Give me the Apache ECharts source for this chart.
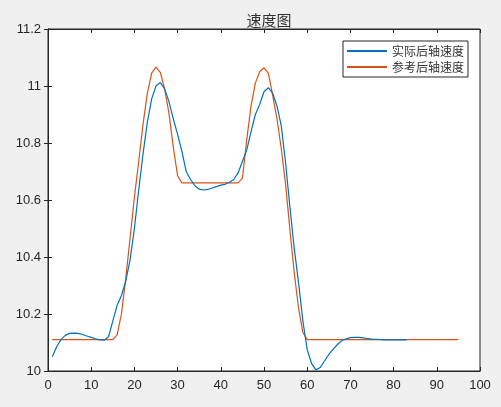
<!DOCTYPE html>
<html>
<head>
<meta charset="utf-8">
<script src="https://cdn.jsdelivr.net/npm/echarts@6/dist/echarts.min.js"></script>
<style>
html,body{margin:0;padding:0;background:#f0f0f0;}
#c{width:501px;height:407px;}
</style>
</head>
<body>
<div id="c"></div>
<script>
const titleText = '速度图';
const seriesNames = ['实际后轴速度', '参考后轴速度'];
const xTicks = [0, 10, 20, 30, 40, 50, 60, 70, 80, 90, 100];
const yTicks = [10, 10.2, 10.4, 10.6, 10.8, 11, 11.2];

// actual (blue), x = 1..83
const actualX = [];
for (let i = 1; i <= 83; i++) actualX.push(i);
const actualY = [
  10.05, 10.085, 10.11, 10.125, 10.132, 10.133, 10.132, 10.128, 10.123, 10.118,
  10.113, 10.109, 10.108, 10.12, 10.175, 10.23, 10.265, 10.315, 10.39, 10.50,
  10.635, 10.762, 10.873, 10.955, 11.0, 11.012, 10.99, 10.945, 10.885, 10.83,
  10.77, 10.70, 10.672, 10.65, 10.638, 10.635, 10.637, 10.642, 10.647, 10.652,
  10.655, 10.662, 10.672, 10.695, 10.735, 10.775, 10.84, 10.9, 10.935, 10.98,
  10.994, 10.975, 10.93, 10.86, 10.73, 10.575, 10.43, 10.31, 10.175, 10.075,
  10.027, 10.004, 10.012, 10.035, 10.058, 10.076, 10.093, 10.106, 10.113, 10.117,
  10.118, 10.118, 10.116, 10.114, 10.112, 10.111, 10.11, 10.109, 10.109, 10.109,
  10.109, 10.109, 10.109
];

// reference (red), x = 1..95
const refX = [];
for (let i = 1; i <= 95; i++) refX.push(i);
const refY = [
  10.11, 10.11, 10.11, 10.11, 10.11, 10.11, 10.11, 10.11, 10.11, 10.11,
  10.11, 10.11, 10.11, 10.11, 10.11, 10.127, 10.2, 10.325, 10.466, 10.61,
  10.735, 10.866, 10.975, 11.045, 11.066, 11.048, 10.99, 10.904, 10.785, 10.685,
  10.66, 10.66, 10.66, 10.66, 10.66, 10.66, 10.66, 10.66, 10.66, 10.66,
  10.66, 10.66, 10.66, 10.66, 10.676, 10.81, 10.93, 11.01, 11.05, 11.064,
  11.045, 10.968, 10.885, 10.78, 10.655, 10.495, 10.345, 10.22, 10.135, 10.11,
  10.11, 10.11, 10.11, 10.11, 10.11, 10.11, 10.11, 10.11, 10.11, 10.11,
  10.11, 10.11, 10.11, 10.11, 10.11, 10.11, 10.11, 10.11, 10.11, 10.11,
  10.11, 10.11, 10.11, 10.11, 10.11, 10.11, 10.11, 10.11, 10.11, 10.11,
  10.11, 10.11, 10.11, 10.11, 10.11
];

const axisCol = '#262626';
const chart = echarts.init(document.getElementById('c'), null, {renderer: 'canvas'});
const xBase = {
  type: 'value', min: xTicks[0], max: xTicks[xTicks.length - 1], interval: 10,
  axisLine: {show: true, lineStyle: {color: axisCol, width: 1}},
  axisTick: {show: true, inside: true, length: 4, lineStyle: {color: axisCol}},
  splitLine: {show: false}
};
const yBase = {
  type: 'value', min: yTicks[0], max: yTicks[yTicks.length - 1], interval: 0.2,
  axisLine: {show: true, lineStyle: {color: axisCol, width: 1}},
  axisTick: {show: true, inside: true, length: 4, lineStyle: {color: axisCol}},
  splitLine: {show: false}
};
const labelFont = {color: axisCol, fontSize: 13, fontFamily: 'Liberation Sans, Arial, sans-serif'};
chart.setOption({
  animation: false,
  backgroundColor: '#f0f0f0',
  title: {
    text: titleText, left: 264, top: 8, textAlign: 'center',
    textStyle: {fontSize: 15, fontWeight: 'normal', color: '#333', fontFamily: 'Noto Sans CJK SC'}
  },
  grid: {left: 48, right: 21, top: 29, bottom: 36, show: true, backgroundColor: '#ffffff', borderColor: axisCol, borderWidth: 1},
  legend: {
    orient: 'vertical', right: 33, top: 41,
    backgroundColor: '#ffffff', borderColor: axisCol, borderWidth: 1,
    padding: [4, 4, 4, 3], itemGap: 4, itemWidth: 40, itemHeight: 12, itemTextGap: 4,
    itemStyle: {opacity: 0},
    textStyle: {fontSize: 12, color: '#333', fontFamily: 'Noto Sans CJK SC'},
    data: seriesNames
  },
  xAxis: [
    Object.assign({}, xBase, {position: 'bottom', axisLabel: Object.assign({margin: 8, formatter: v => String(v)}, labelFont)}),
    Object.assign({}, xBase, {position: 'top', axisLabel: {show: false}})
  ],
  yAxis: [
    Object.assign({}, yBase, {position: 'left', axisLabel: Object.assign({margin: 7, formatter: v => String(+v.toFixed(1))}, labelFont)}),
    Object.assign({}, yBase, {position: 'right', axisLabel: {show: false}})
  ],
  series: [
    {
      name: seriesNames[0], type: 'line', symbol: 'none', xAxisIndex: 0, yAxisIndex: 0,
      data: actualX.map((x, i) => [x, actualY[i]]),
      lineStyle: {color: '#0072BD', width: 1.2}, itemStyle: {color: '#0072BD'}, z: 3
    },
    {
      name: seriesNames[1], type: 'line', symbol: 'none', xAxisIndex: 0, yAxisIndex: 0,
      data: refX.map((x, i) => [x, refY[i]]),
      lineStyle: {color: '#D95319', width: 1.2}, itemStyle: {color: '#D95319'}, z: 2
    }
  ]
});
</script>
</body>
</html>
